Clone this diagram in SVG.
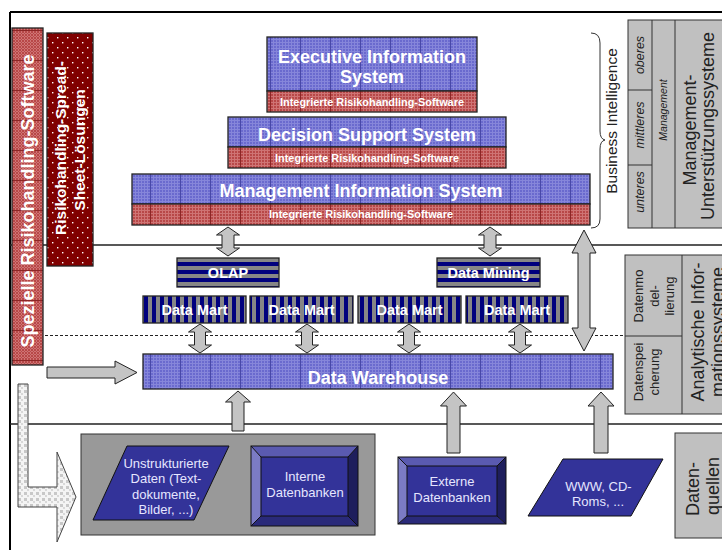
<svg xmlns="http://www.w3.org/2000/svg" width="722" height="550" viewBox="0 0 722 550">
<style>
.bx{stroke:#222;stroke-width:1.3}
.arr{fill:#c4c4c4;stroke:#222;stroke-width:1}
.t{font-family:"Liberation Sans",Arial,sans-serif;text-anchor:middle}
.wb{font-family:"Liberation Sans",Arial,sans-serif;font-weight:bold;fill:#fff;text-anchor:middle}
.lt{font-family:"Liberation Sans",Arial,sans-serif;fill:#e6e6ff;text-anchor:middle;font-size:13px}
.pn{fill:#c0c0c0;stroke:#333;stroke-width:1}
.ln{stroke:#222;stroke-width:1.5;fill:none}
.dk{font-family:"Liberation Sans",Arial,sans-serif;fill:#222;text-anchor:middle}
</style>
<defs>
<pattern id="blue" width="30" height="3" patternUnits="userSpaceOnUse">
<rect width="30" height="3" fill="#6a6ace"/>
<path d="M0 0h30v1h-30zM3 0h1v3h-1zM6 0h1v3h-1zM9 0h1v3h-1zM12 0h1v3h-1zM15 0h1v3h-1zM18 0h1v3h-1zM21 0h1v3h-1zM24 0h1v3h-1zM27 0h1v3h-1z" fill="#8686da"/>
<rect width="1" height="3" fill="#4848a8"/>
</pattern>
<pattern id="red" width="30" height="3" patternUnits="userSpaceOnUse">
<rect width="30" height="3" fill="#b84848"/>
<path d="M0 0h30v1h-30zM3 0h1v3h-1zM6 0h1v3h-1zM9 0h1v3h-1zM12 0h1v3h-1zM15 0h1v3h-1zM18 0h1v3h-1zM21 0h1v3h-1zM24 0h1v3h-1zM27 0h1v3h-1z" fill="#cf7474"/>
<rect width="1" height="3" fill="#8c2626"/>
</pattern>
<pattern id="redv" width="3" height="30" patternUnits="userSpaceOnUse">
<rect width="3" height="30" fill="#b84848"/>
<path d="M0 0v30h1v-30zM0 3h3v1h-3zM0 6h3v1h-3zM0 9h3v1h-3zM0 12h3v1h-3zM0 15h3v1h-3zM0 18h3v1h-3zM0 21h3v1h-3zM0 24h3v1h-3zM0 27h3v1h-3z" fill="#cf7474"/>
<rect width="3" height="1" fill="#8c2626"/>
</pattern>
<pattern id="sheet" width="10" height="10" patternUnits="userSpaceOnUse">
<rect width="10" height="10" fill="#800000"/>
<rect x="2" y="2" width="1.4" height="1.4" fill="#fff"/>
<rect x="7" y="7" width="1.4" height="1.4" fill="#fff"/>
</pattern>
<pattern id="vstr" width="8" height="8" patternUnits="userSpaceOnUse">
<rect width="8" height="8" fill="#868686"/>
<rect x="0" width="4" height="8" fill="#00007e"/>
</pattern>
<pattern id="hstr" width="8" height="8" patternUnits="userSpaceOnUse" y="258">
<rect width="8" height="8" fill="#868686"/>
<rect y="4" width="8" height="4" fill="#00007e"/>
</pattern>
<pattern id="dots" width="6" height="6" patternUnits="userSpaceOnUse">
<rect width="6" height="6" fill="#f4f4f4"/>
<rect x="0" y="0" width="3" height="3" fill="#c8c8c8"/>
<rect x="3" y="3" width="2" height="2" fill="#d8d8d8"/>
</pattern>
</defs>

<rect width="722" height="550" fill="#fff"/>

<g id="frame">
<path d="M10 12H722M10 12V550" stroke="#000" stroke-width="2" fill="none"/>
<path class="ln" d="M10 245H722M10 424H722"/>
<path d="M10 335.5H625" stroke="#222" stroke-width="1" stroke-dasharray="3 2" fill="none"/>
</g>

<g id="spezielle">
<rect class="bx" x="12" y="28" width="31" height="337" fill="url(#redv)"/>
<text class="wb" font-size="18" transform="translate(34 201) rotate(-90)">Spezielle Risikohandling-Software</text>
</g>

<g id="spreadsheet">
<rect class="bx" x="47" y="33" width="46" height="233" fill="url(#sheet)"/>
<text class="wb" font-size="15.5" transform="translate(66 148) rotate(-90)">Risikohandling-Spread-</text>
<text class="wb" font-size="15.5" transform="translate(84.5 150) rotate(-90)">Sheet-Lösungen</text>
</g>

<g id="eis">
<rect class="bx" x="267" y="37" width="210" height="54" fill="url(#blue)"/>
<rect class="bx" x="267" y="91" width="210" height="21" fill="url(#red)"/>
<text class="wb" font-size="18" x="372" y="62.5">Executive Information</text>
<text class="wb" font-size="18" x="372" y="82.5">System</text>
<text class="wb" font-size="10.9" x="372" y="106">Integrierte Risikohandling-Software</text>
</g>

<g id="dss">
<rect class="bx" x="228" y="117" width="278" height="30" fill="url(#blue)"/>
<rect class="bx" x="228" y="147" width="278" height="21" fill="url(#red)"/>
<text class="wb" font-size="18" x="367" y="140.5">Decision Support System</text>
<text class="wb" font-size="10.9" x="367" y="162">Integrierte Risikohandling-Software</text>
</g>

<g id="mis">
<rect class="bx" x="132" y="174" width="458" height="30" fill="url(#blue)"/>
<rect class="bx" x="132" y="204" width="458" height="21" fill="url(#red)"/>
<text class="wb" font-size="18" x="361" y="196.5">Management Information System</text>
<text class="wb" font-size="10.9" x="361" y="218">Integrierte Risikohandling-Software</text>
</g>

<g id="bi">
<path d="M591 33Q600 33 600 43L600 131Q600 139 605 140Q600 141 600 149L600 219Q600 228 591 228" fill="none" stroke="#333" stroke-width="1"/>
<text class="dk" font-size="15.5" transform="translate(617 121) rotate(-90)">Business Intelligence</text>
</g>

<g id="mus">
<rect class="pn" x="628" y="20" width="100" height="208"/>
<path d="M652 20V228M675 20V228M628 90H652M628 165H652" stroke="#333" stroke-width="1"/>
<text class="dk" font-size="12.5" font-style="italic" transform="translate(644 55) rotate(-90)">oberes</text>
<text class="dk" font-size="12.5" font-style="italic" transform="translate(644 125) rotate(-90)">mittleres</text>
<text class="dk" font-size="12.5" font-style="italic" transform="translate(644 192) rotate(-90)">unteres</text>
<text class="dk" font-size="10.5" font-style="italic" transform="translate(667 110) rotate(-90)">Management</text>
<text class="dk" font-size="18" transform="translate(696 130) rotate(-90)">Management-</text>
<text class="dk" font-size="18" transform="translate(714 126) rotate(-90)">Unterstützungssysteme</text>
</g>

<g id="ais">
<rect class="pn" x="625" y="255" width="105" height="159"/>
<path d="M682 255V414M625 336H682" stroke="#333" stroke-width="1"/>
<text class="dk" font-size="13" transform="translate(643 296) rotate(-90)">Datenmo</text>
<text class="dk" font-size="13" transform="translate(658.5 296) rotate(-90)">del-</text>
<text class="dk" font-size="13" transform="translate(674 296) rotate(-90)">lierung</text>
<text class="dk" font-size="13" transform="translate(643 372) rotate(-90)">Datenspei</text>
<text class="dk" font-size="13" transform="translate(658.5 372) rotate(-90)">cherung</text>
<text class="dk" font-size="18" transform="translate(704 332) rotate(-90)">Analytische Infor-</text>
<text class="dk" font-size="18" transform="translate(724 332) rotate(-90)">mationssysteme</text>
</g>

<g id="datenquellen">
<rect class="pn" x="675" y="433" width="55" height="105"/>
<text class="dk" font-size="18" transform="translate(699 489) rotate(-90)">Daten-</text>
<text class="dk" font-size="18" transform="translate(719 486) rotate(-90)">quellen</text>
</g>

<g id="olap">
<rect class="bx" x="177" y="258" width="102" height="29" fill="url(#hstr)"/>
<text class="wb" font-size="14.5" x="228" y="277.5">OLAP</text>
</g>
<g id="datamining">
<rect class="bx" x="437" y="258" width="103" height="29" fill="url(#hstr)"/>
<text class="wb" font-size="14.5" x="488.5" y="277.5">Data Mining</text>
</g>

<g id="dm1">
<rect class="bx" x="143" y="296" width="103" height="27" fill="url(#vstr)"/>
<text class="wb" font-size="14.5" x="194.5" y="315">Data Mart</text>
</g>
<g id="dm2">
<rect class="bx" x="250" y="296" width="103" height="27" fill="url(#vstr)"/>
<text class="wb" font-size="14.5" x="301.5" y="315">Data Mart</text>
</g>
<g id="dm3">
<rect class="bx" x="358" y="296" width="103" height="27" fill="url(#vstr)"/>
<text class="wb" font-size="14.5" x="409.5" y="315">Data Mart</text>
</g>
<g id="dm4">
<rect class="bx" x="466" y="296" width="102" height="27" fill="url(#vstr)"/>
<text class="wb" font-size="14.5" x="517" y="315">Data Mart</text>
</g>

<g id="dw">
<rect class="bx" x="143" y="354" width="470" height="35" fill="url(#blue)"/>
<text class="wb" font-size="18" x="378" y="383.5">Data Warehouse</text>
</g>

<g id="quellen-panel">
<rect x="81" y="434" width="294" height="101" fill="#999" stroke="#333" stroke-width="1"/>
</g>

<g id="unstrukturiert">
<polygon points="127,446 229,446 194,520 93,520" fill="#333399" stroke="#111" stroke-width="1"/>
<text class="lt" x="166" y="467.5">Unstrukturierte</text>
<text class="lt" x="166" y="483">Daten (Text-</text>
<text class="lt" x="166" y="498.5">dokumente,</text>
<text class="lt" x="166" y="514">Bilder, ...)</text>
</g>

<g id="interne">
<polygon points="251,446 358,446 348,457 261,457" fill="#5a5ab0"/>
<polygon points="251,446 261,457 261,516 251,526" fill="#7b7bc4"/>
<polygon points="358,446 358,526 348,516 348,457" fill="#1e1e5c"/>
<polygon points="251,526 358,526 348,516 261,516" fill="#2a2a7a"/>
<rect x="261" y="457" width="87" height="59" fill="#333399" stroke="#111" stroke-width="1"/>
<rect x="251" y="446" width="107" height="80" fill="none" stroke="#111" stroke-width="1"/>
<path d="M251 446L261 457M358 446L348 457M251 526L261 516M358 526L348 516" stroke="#111" stroke-width="1"/>
<text class="lt" x="305" y="480.5">Interne</text>
<text class="lt" x="305" y="496.5">Datenbanken</text>
</g>

<g id="externe">
<polygon points="398,457 506,457 497,466 407,466" fill="#5a5ab0"/>
<polygon points="398,457 407,466 407,516 398,524" fill="#7b7bc4"/>
<polygon points="506,457 506,524 497,516 497,466" fill="#1e1e5c"/>
<polygon points="398,524 506,524 497,516 407,516" fill="#2a2a7a"/>
<rect x="407" y="466" width="90" height="50" fill="#333399" stroke="#111" stroke-width="1"/>
<rect x="398" y="457" width="108" height="67" fill="none" stroke="#111" stroke-width="1"/>
<path d="M398 457L407 466M506 457L497 466M398 524L407 516M506 524L497 516" stroke="#111" stroke-width="1"/>
<text class="lt" x="452" y="485.5">Externe</text>
<text class="lt" x="452" y="501.5">Datenbanken</text>
</g>

<g id="www">
<polygon points="563,459 663,459 631,516 528,516" fill="#333399" stroke="#111" stroke-width="1"/>
<text class="lt" x="598.5" y="490.5">WWW, CD-</text>
<text class="lt" x="598" y="505.5">Roms, ...</text>
</g>

<g id="connectors">
<path class="arr" d="M228 227L239.5 235L234 235L234 248L239.5 248L228 256L216.5 248L222 248L222 235L216.5 235Z"/>
<path class="arr" d="M490 227L501.5 235L496 235L496 248L501.5 248L490 256L478.5 248L484 248L484 235L478.5 235Z"/>
<path class="arr" d="M584 230L596 253L590 253L590 328L596 328L584 351L572 328L578 328L578 253L572 253Z"/>
<path class="arr" d="M200 324L211.5 332L205.5 332L205.5 345L211.5 345L200 353L188.5 345L194.5 345L194.5 332L188.5 332Z"/>
<path class="arr" d="M307 324L318.5 332L312.5 332L312.5 345L318.5 345L307 353L295.5 345L301.5 345L301.5 332L295.5 332Z"/>
<path class="arr" d="M409 324L420.5 332L414.5 332L414.5 345L420.5 345L409 353L397.5 345L403.5 345L403.5 332L397.5 332Z"/>
<path class="arr" d="M520 324L531.5 332L525.5 332L525.5 345L531.5 345L520 353L508.5 345L514.5 345L514.5 332L508.5 332Z"/>
<path class="arr" d="M238 391L250.5 402L244 402L244 431L232 431L232 402L225.5 402Z"/>
<path class="arr" d="M453.5 392L466.5 406L460 406L460 453L447 453L447 406L440.5 406Z"/>
<path class="arr" d="M601 392L614 406L608 406L608 453L594 453L594 406L588 406Z"/>
<path class="arr" d="M47 367L115 367L115 361L137 372.5L115 384L115 378L47 378Z"/>
<path d="M18 384L28 384L28 487L57 487L57 452L76 497L57 542L57 507L18 507Z" fill="url(#dots)" stroke="#444" stroke-width="1"/>
</g>
</svg>
